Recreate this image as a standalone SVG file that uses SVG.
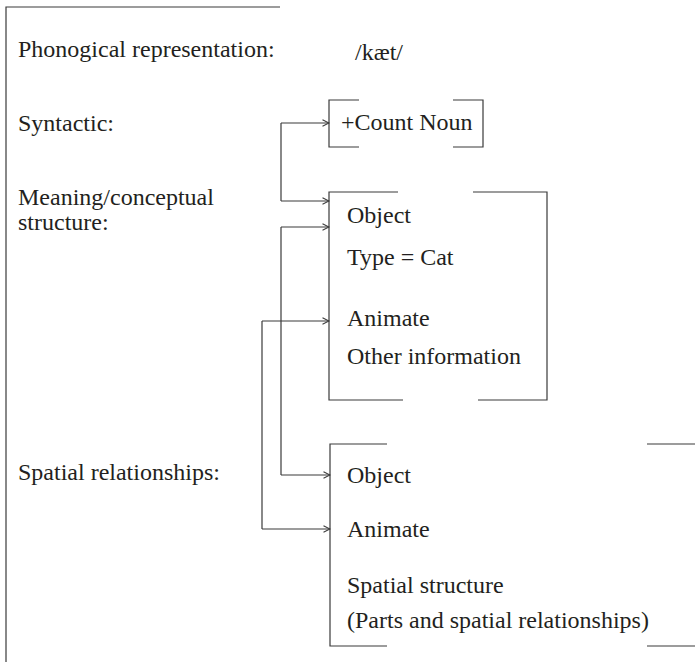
<svg xmlns="http://www.w3.org/2000/svg" width="695" height="662" viewBox="0 0 695 662">
  <style>
    .t { font-family: "Liberation Serif", "Times New Roman", serif; font-size: 24px; fill: #231f20; }
    .ln { fill: none; stroke: #3a3a3a; stroke-width: 1.2; }
  </style>
  <defs>
    <marker id="arr" viewBox="0 0 8 8" markerWidth="8" markerHeight="8" refX="7.5" refY="4" orient="auto" markerUnits="userSpaceOnUse">
      <path d="M1,0.8 L7.5,4 L1,7.2" fill="none" stroke="#3a3a3a" stroke-width="1.1"/>
    </marker>
  </defs>
  <rect width="695" height="662" fill="#ffffff"/>

  <!-- outer frame (left and top edges) -->
  <path class="ln" d="M6,662 V7 H280"/>

  <!-- row labels -->
  <g id="labels">
    <text class="t" x="18" y="57">Phonogical representation:</text>
    <text class="t" x="18" y="131">Syntactic:</text>
    <text class="t" x="18" y="205">Meaning/conceptual</text>
    <text class="t" x="18" y="230">structure:</text>
    <text class="t" x="18" y="480">Spatial relationships:</text>
  </g>

  <!-- phonological form -->
  <g id="phon">
    <text class="t" x="355" y="60" font-size="22">/kæt/</text>
  </g>

  <!-- syntactic feature bracket -->
  <g id="syntactic">
    <path class="ln" d="M359,100 H329 V147 H359 M453,100 H483 V147 H453"/>
    <text class="t" x="341" y="130">+Count Noun</text>
  </g>

  <!-- conceptual structure bracket -->
  <g id="conceptual">
    <path class="ln" d="M398,192 H329 V400 H403 M473,192 H547 V400 H478"/>
    <text class="t" x="347" y="223">Object</text>
    <text class="t" x="347" y="265">Type = Cat</text>
    <text class="t" x="347" y="326">Animate</text>
    <text class="t" x="347" y="364">Other information</text>
  </g>

  <!-- spatial structure bracket -->
  <g id="spatial">
    <path class="ln" d="M387,444 H330 V646 H387 M647,444 H695 M647,646 H695"/>
    <text class="t" x="347" y="483">Object</text>
    <text class="t" x="347" y="537">Animate</text>
    <text class="t" x="347" y="593">Spatial structure</text>
    <text class="t" x="347" y="628">(Parts and spatial relationships)</text>
  </g>

  <!-- correspondence links -->
  <g id="connectors">
    <path class="ln" d="M281,123 V201" />
    <path class="ln" d="M281,123 H329" marker-end="url(#arr)"/>
    <path class="ln" d="M281,201 H329" marker-end="url(#arr)"/>
    <path class="ln" d="M281,227 V475"/>
    <path class="ln" d="M281,227 H329" marker-end="url(#arr)"/>
    <path class="ln" d="M281,475 H330" marker-end="url(#arr)"/>
    <path class="ln" d="M262,321 V529"/>
    <path class="ln" d="M262,321 H329" marker-end="url(#arr)"/>
    <path class="ln" d="M262,529 H330" marker-end="url(#arr)"/>
  </g>
</svg>
